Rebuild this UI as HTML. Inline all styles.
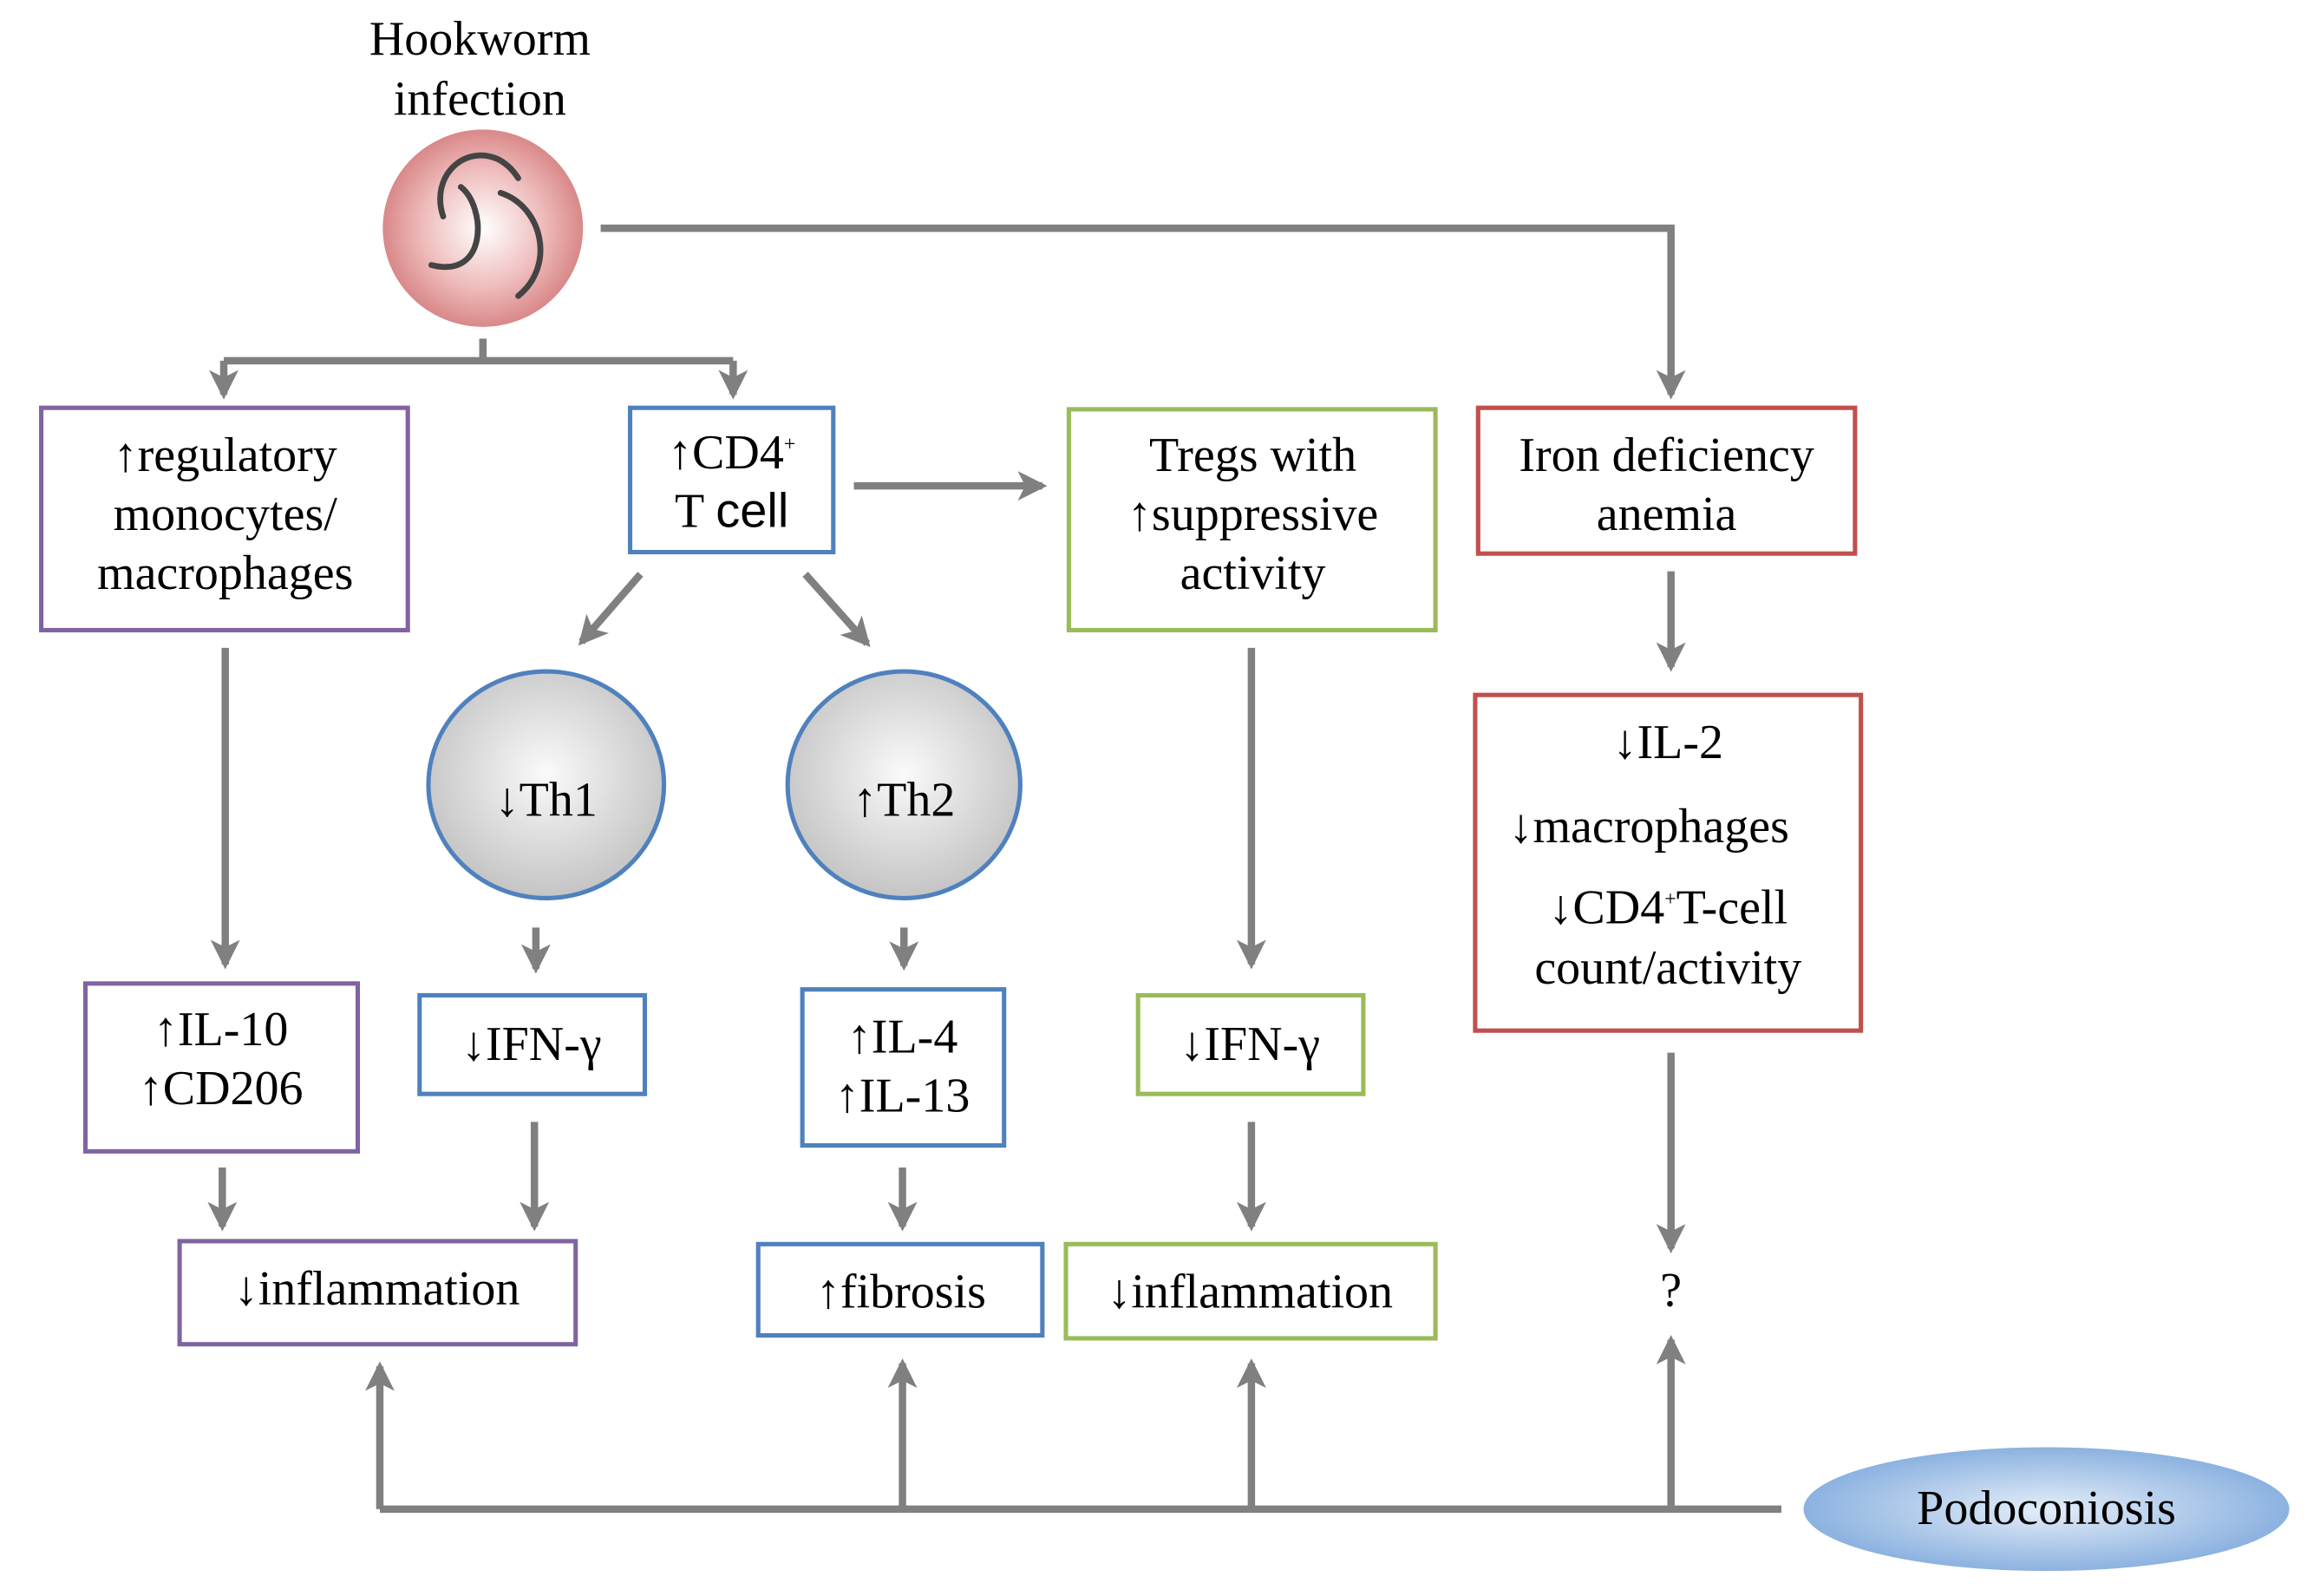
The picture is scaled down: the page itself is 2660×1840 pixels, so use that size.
<!DOCTYPE html>
<html><head><meta charset="utf-8"><style>html,body{margin:0;padding:0;background:#fff}svg{display:block}</style></head>
<body>
<svg width="2660" height="1840" viewBox="0 0 1567 1084" preserveAspectRatio="none" xmlns="http://www.w3.org/2000/svg" font-family="'Liberation Serif', serif" font-size="33" text-anchor="middle" fill="#000">
<defs>
<marker id="a" viewBox="0 0 12 12" refX="10" refY="6" markerWidth="4" markerHeight="4" orient="auto" markerUnits="strokeWidth">
<path d="M0,0 L12,6 L0,12 L3,6 Z" fill="#808080"/></marker>
<radialGradient id="rg" cx="50%" cy="50%" r="50%"><stop offset="0" stop-color="#fff"/><stop offset="0.6" stop-color="#efbcbc"/><stop offset="1" stop-color="#d98888"/></radialGradient>
<radialGradient id="gg" cx="50%" cy="45%" r="55%"><stop offset="0" stop-color="#fafafa"/><stop offset="1" stop-color="#c4c4c4"/></radialGradient>
<radialGradient id="bg" cx="50%" cy="50%" r="50%"><stop offset="0" stop-color="#e4eef9"/><stop offset="1" stop-color="#8cb2e0"/></radialGradient>
</defs>
<g stroke="#808080" stroke-width="5" fill="none">
<path d="M408,155 H1135 V268" marker-end="url(#a)"/>
<path d="M328,230 V245"/>
<path d="M152,245 H498"/>
<path d="M152,245 V268" marker-end="url(#a)"/>
<path d="M498,245 V268" marker-end="url(#a)"/>
<path d="M580,330 H708" marker-end="url(#a)"/>
<path d="M1135,388 V453" marker-end="url(#a)"/>
<path d="M1135,715 V848" marker-end="url(#a)"/>
<path d="M153,440 V655" marker-end="url(#a)"/>
<path d="M151,793 V833" marker-end="url(#a)"/>
<path d="M435,390 L395,436" marker-end="url(#a)"/>
<path d="M547,390 L589,437" marker-end="url(#a)"/>
<path d="M364,630 V658" marker-end="url(#a)"/>
<path d="M614,630 V656" marker-end="url(#a)"/>
<path d="M363,762 V833" marker-end="url(#a)"/>
<path d="M613,793 V833" marker-end="url(#a)"/>
<path d="M850,440 V655" marker-end="url(#a)"/>
<path d="M850,762 V833" marker-end="url(#a)"/>
<path d="M258,1025 H1210"/>
<path d="M258,1025 V928" marker-end="url(#a)"/>
<path d="M613,1025 V926" marker-end="url(#a)"/>
<path d="M850,1025 V926" marker-end="url(#a)"/>
<path d="M1135,1025 V910" marker-end="url(#a)"/>
</g>
<ellipse cx="328" cy="155" rx="68" ry="67" fill="url(#rg)"/>
<g stroke="#444" stroke-width="4" fill="none" stroke-linecap="round">
<path d="M301,147 C292,120 315,98 338,108 C346,112 350,118 352,121"/>
<path d="M313,127 C330,140 332,190 293,180"/>
<path d="M340,131 C368,140 378,180 352,201"/>
</g>
<text x="326" y="37">Hookworm</text>
<text x="326" y="78">infection</text>
<g fill="#fff" stroke-width="3">
<rect x="28" y="277" width="249" height="151" stroke="#8064a2"/>
<rect x="428" y="277" width="138" height="98" stroke="#4f81bd"/>
<rect x="726" y="278" width="249" height="150" stroke="#9bbb59"/>
<rect x="1004" y="277" width="256" height="99" stroke="#c0504d"/>
<rect x="1002" y="472" width="262" height="228" stroke="#c0504d"/>
<rect x="58" y="668" width="185" height="114" stroke="#8064a2"/>
<rect x="122" y="843" width="269" height="70" stroke="#8064a2"/>
<rect x="285" y="676" width="153" height="67" stroke="#4f81bd"/>
<rect x="545" y="672" width="137" height="106" stroke="#4f81bd"/>
<rect x="515" y="845" width="193" height="62" stroke="#4f81bd"/>
<rect x="773" y="676" width="153" height="67" stroke="#9bbb59"/>
<rect x="724" y="845" width="251" height="64" stroke="#9bbb59"/>
</g>
<ellipse cx="371" cy="533" rx="80" ry="77" fill="url(#gg)" stroke="#4f81bd" stroke-width="3"/>
<ellipse cx="614" cy="533" rx="79" ry="77" fill="url(#gg)" stroke="#4f81bd" stroke-width="3"/>
<ellipse cx="1390" cy="1025" rx="165" ry="42" fill="url(#bg)"/>
<text x="153" y="320">↑regulatory</text>
<text x="153" y="360">monocytes/</text>
<text x="153" y="400">macrophages</text>
<text x="497" y="318">↑CD4<tspan font-size="14" dy="-12">+</tspan></text>
<text x="497" y="358">T <tspan font-family="'Liberation Sans', sans-serif">cell</tspan></text>
<text x="851" y="320">Tregs with</text>
<text x="851" y="360">↑suppressive</text>
<text x="851" y="400">activity</text>
<text x="1132" y="320">Iron deficiency</text>
<text x="1132" y="360">anemia</text>
<text x="1133" y="515">↓IL-2</text>
<text x="1120" y="572">↓macrophages</text>
<text x="1133" y="627">↓CD4<tspan font-size="14" dy="-12">+</tspan><tspan dy="12">T-cell</tspan></text>
<text x="1133" y="668">count/activity</text>
<text x="371" y="554">↓Th1</text>
<text x="614" y="554">↑Th2</text>
<text x="150" y="710">↑IL-10</text>
<text x="150" y="750">↑CD206</text>
<text x="361" y="720">↓IFN-γ</text>
<text x="613" y="715">↑IL-4</text>
<text x="613" y="755">↑IL-13</text>
<text x="849" y="720">↓IFN-γ</text>
<text x="256" y="886">↓inflammation</text>
<text x="612" y="888">↑fibrosis</text>
<text x="849" y="888">↓inflammation</text>
<text x="1135" y="887">?</text>
<text x="1390" y="1035">Podoconiosis</text>
</svg>
</body></html>
